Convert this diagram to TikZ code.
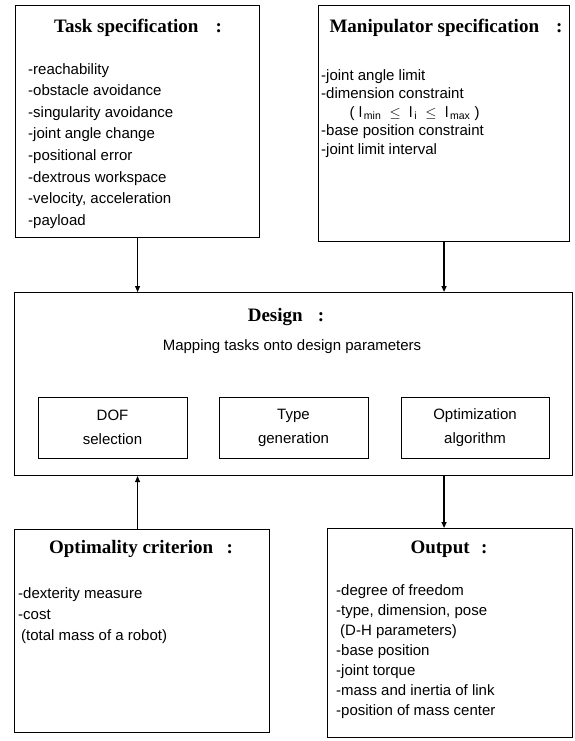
\documentclass[tikz,border=0pt]{standalone}
\usepackage{fontspec}
\setmainfont{Liberation Serif}
\setsansfont{Liberation Sans}
\usepackage{tikz}
\usetikzlibrary{positioning, calc, arrows.meta}

\tikzset{
  specbox/.style={draw, line width=1.1pt, inner sep=0pt, anchor=north west},
  boxtitle/.style={font=\fontsize{19}{22}\selectfont\bfseries},
  boxtext/.style={font=\sffamily\fontsize{15}{21.6}\selectfont, align=left, anchor=north west, inner sep=0pt},
  subbox/.style={draw, line width=1pt, minimum width=149pt, minimum height=61pt, align=center,
    font=\sffamily\fontsize{15}{24}\selectfont},
  flow/.style={-{Triangle[length=6pt,width=5pt]}, line width=1.1pt}
}

\begin{document}
\begin{tikzpicture}[x=1pt, y=-1pt]
  \useasboundingbox (0,0) rectangle (574,741);
  %% outer boxes
  \node[specbox, minimum width=244pt, minimum height=232pt] (task) at (15,5) {};
  \node[specbox, minimum width=251pt, minimum height=236pt] (manip) at (318,5) {};
  \node[specbox, minimum width=558pt, minimum height=183pt] (design) at (14,292) {};
  \node[specbox, minimum width=255pt, minimum height=203pt] (opt) at (14,529) {};
  \node[specbox, minimum width=245pt, minimum height=209pt] (output) at (327,528) {};
  %% task specification
  \node[boxtitle] (tasktitle) at (138,28) {Task specification\hspace{0.9em}:};
  \node[boxtext] (tasklist) at (28,63) {-reachability\\-obstacle avoidance\\-singularity avoidance\\
    -joint angle change\\-positional error\\-dextrous workspace\\-velocity, acceleration\\-payload};
  %% manipulator specification
  \node[boxtitle] (maniptitle) at (446,28) {Manipulator specification\hspace{0.9em}:};
  \node[boxtext, font=\sffamily\fontsize{15}{18.5}\selectfont] (maniplist) at (321,69) {-joint angle limit\\
    -dimension constraint\\
    \hspace{1.9em}( l\textsubscript{\,min}\ \ $\leq$\ \ l\textsubscript{\,i}\ \ $\leq$\ \ l\textsubscript{\,max} )\\
    -base position constraint\\-joint limit interval};
  %% design
  \node[boxtitle] (designtitle) at (286,317) {Design\hspace{0.8em}:};
  \node[font=\sffamily\fontsize{15}{18}\selectfont] (mapping) at (292,347) {Mapping tasks onto design parameters};
  \node[subbox] (dof) at (112.5,427.5) {DOF\\selection};
  \node[subbox] (typegen) at (293.5,427.5) {Type\\generation};
  \node[subbox, minimum width=148pt] (optalg) at (475,427.5) {Optimization\\algorithm};
  %% optimality criterion
  \node[boxtitle] (opttitle) at (141,549) {Optimality criterion\hspace{0.7em}:};
  \node[boxtext, font=\sffamily\fontsize{15}{21}\selectfont] (optlist) at (18,587) {-dexterity measure\\-cost\\
    \hspace{3pt}(total mass of a robot)};
  %% output
  \node[boxtitle] (outtitle) at (449,549) {Output\hspace{0.6em}:};
  \node[boxtext, font=\sffamily\fontsize{15}{20}\selectfont] (outlist) at (336,584) {-degree of freedom\\
    -type, dimension, pose\\\hspace{4pt}(D-H parameters)\\-base position\\-joint torque\\
    -mass and inertia of link\\-position of mass center};
  %% connectors
  \draw[flow, line width=0.8pt] (task.south) -- (task.south |- design.north);
  \draw[flow, line width=1.3pt] (manip.south) -- (manip.south |- design.north);
  \draw[flow, line width=1.3pt] (manip.south |- design.south) -- (manip.south |- output.north);
  \draw[flow, line width=0.6pt] (task.south |- opt.north) -- (task.south |- design.south);
\end{tikzpicture}
\end{document}
